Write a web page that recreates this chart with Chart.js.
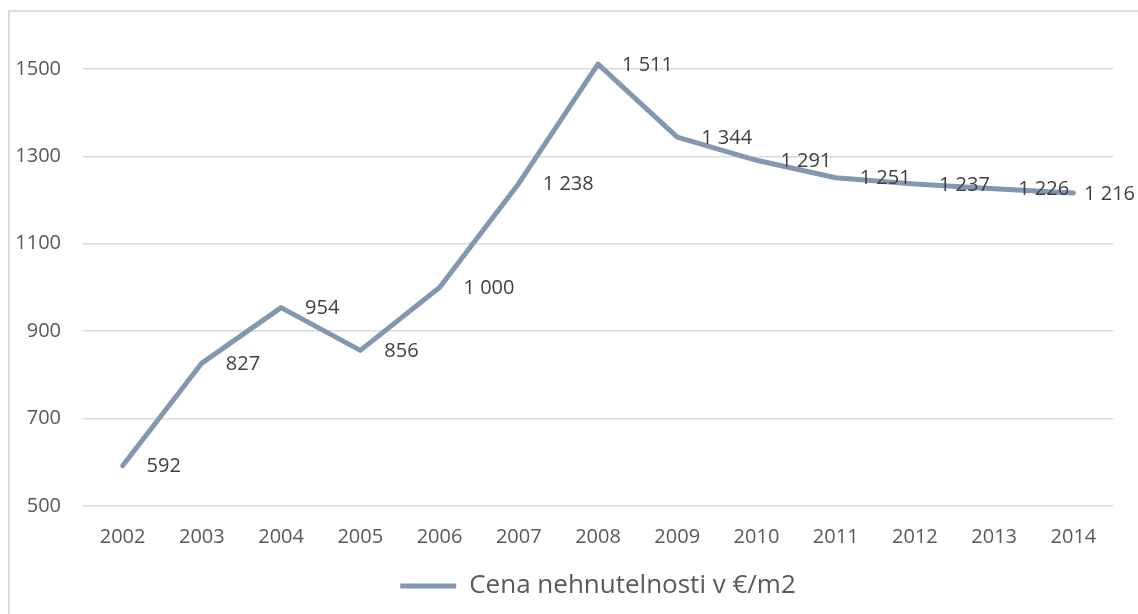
<!DOCTYPE html>
<html>
<head>
<meta charset="utf-8">
<script src="https://cdn.jsdelivr.net/npm/chart.js@4/dist/chart.umd.min.js"></script>
<style>
  html, body { margin: 0; padding: 0; background: #fff; }
  #wrap { position: relative; width: 1138px; height: 614px; overflow: hidden; }
  #frame { position: absolute; left: 8px; top: 10px; width: 1200px; height: 700px;
           border-left: 2px solid #dcdcdc; border-top: 2px solid #dcdcdc; }
  #myChart { position: absolute; left: 0; top: 0; }
</style>
</head>
<body>
<div id="wrap">
  <div id="frame"></div>
  <canvas id="myChart" width="1138" height="614"></canvas>
</div>
<script>
var years = ['2002', '2003', '2004', '2005', '2006', '2007', '2008', '2009', '2010', '2011', '2012', '2013', '2014'];
var ceny = [592, 827, 954, 856, 1000, 1238, 1511, 1344, 1291, 1251, 1237, 1226, 1216];
var yTicks = [500, 700, 900, 1100, 1300, 1500];
var seriesName = 'Cena nehnutelnosti v €/m2';

var lineColor = '#8497b0';
var fontName = "'Open Sans', 'Noto Sans', sans-serif";

// cislo s medzerou ako oddelovacom tisicov, napr. 1 511
var formatNum = function (v) {
    return String(v).replace(/\B(?=(\d{3})+(?!\d))/g, ' ');
};

var dataLabels = {
    id: 'dataLabels',
    afterDatasetsDraw: function (chart) {
        var ctx = chart.ctx;
        var meta = chart.getDatasetMeta(0);
        var values = chart.data.datasets[0].data;
        ctx.save();
        ctx.font = '20px ' + fontName;
        ctx.fillStyle = '#404040';
        ctx.textAlign = 'left';
        ctx.textBaseline = 'middle';
        meta.data.forEach(function (pt, i) {
            var txt = formatNum(values[i]);
            var x = pt.x + 24;
            var w = ctx.measureText(txt).width;
            // label nesmie vyjst z grafu
            if (x + w > chart.width - 3) {
                x = chart.width - 3 - w;
            }
            ctx.fillText(txt, x, pt.y + 1);
        });
        ctx.restore();
    }
};

var ctx = document.getElementById('myChart');

new Chart(ctx, {
    type: 'line',
    data: {
        labels: years,
        datasets: [
            {
                label: seriesName,
                data: ceny,
                fill: false,
                borderColor: lineColor,
                backgroundColor: lineColor,
                borderWidth: 5,
                borderCapStyle: 'round',
                borderJoinStyle: 'round',
                pointRadius: 0,
                pointHoverRadius: 0,
                tension: 0
            }
        ]
    },
    options: {
        responsive: false,
        animation: false,
        events: [],
        layout: {
            padding: { left: 0, right: 25, top: 0, bottom: 5 }
        },
        plugins: {
            tooltip: { enabled: false },
            legend: {
                position: 'bottom',
                fullSize: false,
                labels: {
                    usePointStyle: true,
                    pointStyle: 'line',
                    pointStyleWidth: 56,
                    color: '#595959',
                    padding: 18,
                    font: { family: fontName, size: 26 }
                }
            }
        },
        scales: {
            x: {
                offset: true,
                afterFit: function (scale) {
                    scale.height = 49;
                },
                grid: { display: false, drawTicks: false },
                border: { display: false },
                ticks: {
                    color: '#595959',
                    padding: 19,
                    font: { family: fontName, size: 20 }
                }
            },
            y: {
                min: 500,
                max: 1580,
                afterBuildTicks: function (scale) {
                    scale.ticks = yTicks.map(function (v) { return { value: v }; });
                },
                afterFit: function (scale) {
                    scale.width = 83;
                },
                grid: { color: '#d9d9d9', lineWidth: 1.5, drawTicks: false },
                border: { display: false },
                ticks: {
                    color: '#595959',
                    padding: 22,
                    font: { family: fontName, size: 20 },
                    callback: function (value) { return String(value); }
                }
            }
        }
    },
    plugins: [dataLabels]
});
</script>
</body>
</html>
